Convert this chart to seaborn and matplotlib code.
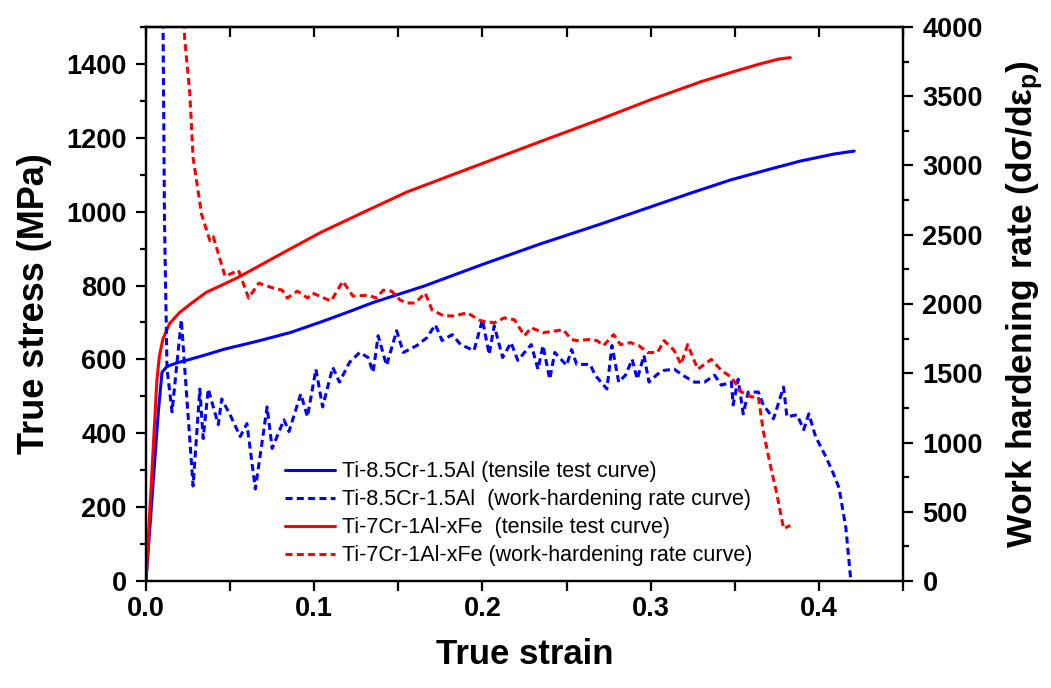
import matplotlib
matplotlib.use("Agg")
from matplotlib import pyplot as plt
from matplotlib.ticker import MultipleLocator, NullFormatter
import seaborn as sns
import pandas as pd

# tensile curves (true strain, true stress MPa)
blue_strain = [0.0, 0.004, 0.0073, 0.0095, 0.0125, 0.018, 0.026, 0.036, 0.046, 0.066, 0.086,
               0.105, 0.12, 0.135, 0.15, 0.165, 0.2, 0.234, 0.27, 0.3, 0.325, 0.3476, 0.37,
               0.389, 0.409, 0.421]
blue_stress = [0, 250, 456, 565, 581, 590, 600, 613, 627, 649, 673,
               703, 728, 754, 776, 798, 857, 912, 966, 1013, 1052, 1086, 1114,
               1137, 1156, 1164]
red_strain = [0.0, 0.003, 0.005, 0.0065, 0.008, 0.010, 0.014, 0.020, 0.027, 0.036, 0.046,
              0.056, 0.08, 0.104, 0.13, 0.155, 0.195, 0.234, 0.27, 0.3, 0.33, 0.35, 0.365,
              0.376, 0.383]
red_stress = [0, 250, 420, 545, 610, 654, 697, 727, 752, 782, 803,
              825, 885, 944, 1000, 1053, 1122, 1189, 1250, 1303, 1352, 1380, 1400,
              1413, 1417]

# work-hardening rate curves
blue_wh_strain = [0.0098, 0.0110, 0.0125, 0.0155, 0.021, 0.028, 0.032, 0.034, 0.037, 0.043,
                  0.045, 0.050, 0.056, 0.060, 0.065, 0.072, 0.075, 0.082, 0.085, 0.092,
                  0.096, 0.101, 0.105, 0.111, 0.115, 0.121, 0.127, 0.132, 0.135, 0.138,
                  0.143, 0.149, 0.153, 0.161, 0.167, 0.172, 0.176, 0.182, 0.187, 0.195,
                  0.200, 0.204, 0.207, 0.212, 0.217, 0.221, 0.229, 0.233, 0.236, 0.240,
                  0.243, 0.250, 0.253, 0.256, 0.264, 0.267, 0.274, 0.277, 0.281, 0.285,
                  0.289, 0.292, 0.296, 0.299, 0.304, 0.308, 0.314, 0.319, 0.326, 0.332,
                  0.338, 0.342, 0.348, 0.349, 0.352, 0.355, 0.358, 0.364, 0.367, 0.373,
                  0.379, 0.381, 0.387, 0.391, 0.394, 0.398, 0.404, 0.408, 0.412, 0.416,
                  0.419]
blue_wh = [4600, 2600, 1530, 1221, 1886, 686, 1386, 1029, 1386, 1129,
           1314, 1200, 1043, 1136, 664, 1257, 957, 1164, 1079, 1350,
           1186, 1529, 1257, 1543, 1436, 1579, 1650, 1614, 1507, 1771,
           1557, 1807, 1650, 1700, 1757, 1850, 1736, 1779, 1707, 1664,
           1886, 1636, 1843, 1614, 1721, 1593, 1707, 1529, 1700, 1457,
           1650, 1557, 1671, 1564, 1564, 1486, 1386, 1700, 1436, 1486,
           1600, 1457, 1629, 1436, 1493, 1521, 1529, 1486, 1436, 1436,
           1486, 1414, 1436, 1271, 1457, 1207, 1364, 1364, 1271, 1171,
           1400, 1186, 1200, 1093, 1207, 1043, 900, 793, 671, 386,
           0]
red_wh_strain = [0.0215, 0.023, 0.026, 0.028, 0.033, 0.038, 0.040, 0.047, 0.055, 0.061,
                 0.067, 0.076, 0.081, 0.084, 0.090, 0.096, 0.099, 0.110, 0.117, 0.123,
                 0.132, 0.137, 0.141, 0.146, 0.151, 0.155, 0.160, 0.166, 0.170, 0.177,
                 0.183, 0.191, 0.199, 0.207, 0.213, 0.219, 0.225, 0.229, 0.236, 0.248,
                 0.253, 0.256, 0.263, 0.268, 0.272, 0.278, 0.282, 0.288, 0.293, 0.298,
                 0.304, 0.308, 0.314, 0.318, 0.322, 0.328, 0.336, 0.342, 0.348, 0.354,
                 0.360, 0.364, 0.367, 0.371, 0.375, 0.379, 0.383]
red_wh = [4500, 3914, 3529, 3057, 2650, 2457, 2486, 2200, 2243, 2043,
          2150, 2114, 2100, 2043, 2093, 2043, 2079, 2021, 2164, 2057,
          2064, 2043, 2100, 2093, 2029, 2007, 2007, 2079, 1957, 1914,
          1914, 1936, 1879, 1864, 1900, 1886, 1771, 1829, 1793, 1814,
          1743, 1736, 1743, 1736, 1700, 1779, 1707, 1721, 1700, 1650,
          1650, 1736, 1664, 1564, 1707, 1529, 1600, 1521, 1471, 1364,
          1329, 1329, 1079, 843, 629, 379, 400]

labels = ["Ti-8.5Cr-1.5Al (tensile test curve)",
          "Ti-8.5Cr-1.5Al  (work-hardening rate curve)",
          "Ti-7Cr-1Al-xFe  (tensile test curve)",
          "Ti-7Cr-1Al-xFe (work-hardening rate curve)"]

sns.set_style("ticks")
plt.rcParams['font.family'] = ['Liberation Sans', 'DejaVu Sans']
for k in ('text.color', 'axes.labelcolor', 'xtick.color', 'ytick.color', 'axes.edgecolor'):
    plt.rcParams[k] = 'black'
plt.rcParams['mathtext.fontset'] = 'custom'
plt.rcParams['mathtext.rm'] = 'Liberation Sans:bold'
plt.rcParams['mathtext.it'] = 'Liberation Sans:bold'
plt.rcParams['mathtext.bf'] = 'Liberation Sans:bold'

fig = plt.figure(figsize=(10.51, 6.88), dpi=100)
ax = fig.add_axes([0.1389, 0.1555, 0.7203, 0.8053])
ax2 = ax.twinx()

dash = (2.3, 1.4)
blue_t = pd.DataFrame({'x': blue_strain, 'y': blue_stress})
red_t = pd.DataFrame({'x': red_strain, 'y': red_stress})
blue_w = pd.DataFrame({'x': blue_wh_strain, 'y': blue_wh})
red_w = pd.DataFrame({'x': red_wh_strain, 'y': red_wh})

sns.lineplot(data=blue_t, x='x', y='y', ax=ax, color='#0000ff', lw=2.2, sort=False, estimator=None)
sns.lineplot(data=red_t, x='x', y='y', ax=ax, color='#ff0000', lw=2.2, sort=False, estimator=None)
sns.lineplot(data=blue_w, x='x', y='y', ax=ax2, color='#0000ff', lw=2.2, sort=False, estimator=None)
sns.lineplot(data=red_w, x='x', y='y', ax=ax2, color='#ff0000', lw=2.2, sort=False, estimator=None)
ax2.lines[0].set_dashes(dash)
ax2.lines[1].set_dashes(dash)

ax.set_xlim(0, 0.45)
ax.set_ylim(0, 1500)
ax2.set_ylim(0, 4000)

ax.xaxis.set_major_locator(MultipleLocator(0.1))
ax.xaxis.set_minor_locator(MultipleLocator(0.05))
ax.yaxis.set_major_locator(MultipleLocator(200))
ax.yaxis.set_minor_locator(MultipleLocator(100))
ax2.yaxis.set_major_locator(MultipleLocator(500))
ax2.yaxis.set_minor_locator(MultipleLocator(250))
ax.xaxis.set_major_formatter(plt.FuncFormatter(lambda v, p: f"{v:.1f}"))

for a in (ax, ax2):
    for s in a.spines.values():
        s.set_linewidth(1.6)

tick_font = 19.5
ax.tick_params(axis='x', which='major', length=7, width=1.6, labelsize=tick_font, pad=4)
ax.tick_params(axis='x', which='minor', length=7, width=1.6)
ax.tick_params(axis='y', which='major', length=7, width=1.6, labelsize=tick_font, pad=7)
ax.tick_params(axis='y', which='minor', length=4, width=1.6)
ax2.tick_params(axis='y', which='major', length=7, width=1.6, labelsize=tick_font, pad=7)
ax2.tick_params(axis='y', which='minor', length=4, width=1.6)

# top axis: ticks pointing inward, no labels
top = ax.secondary_xaxis('top')
top.xaxis.set_major_locator(MultipleLocator(0.1))
top.xaxis.set_minor_locator(MultipleLocator(0.05))
top.xaxis.set_major_formatter(NullFormatter())
top.tick_params(axis='x', which='both', direction='in', length=7, width=1.6)
top.spines['top'].set_linewidth(1.6)

for lab in ax.get_xticklabels() + ax.get_yticklabels() + ax2.get_yticklabels():
    lab.set_fontweight('bold')

ax.set_xlabel("True strain", fontsize=25, fontweight='bold', labelpad=11)
ax.set_ylabel("True stress (MPa)", fontsize=26, fontweight='bold', labelpad=10)
ax2.set_ylabel(r"Work hardening rate (d$\sigma$/d$\epsilon_{\rm p}$)", fontsize=25.5,
               fontweight='bold', labelpad=15)

handles = [ax.lines[0], ax2.lines[0], ax.lines[1], ax2.lines[1]]
ax2.legend(handles, labels, loc='lower left', bbox_to_anchor=(0.184, 0.027), frameon=False,
           fontsize=15.5, handlelength=2.3, handletextpad=0.33, labelspacing=0.32,
           borderpad=0, borderaxespad=0)

fig.savefig("out.png", dpi=100)
